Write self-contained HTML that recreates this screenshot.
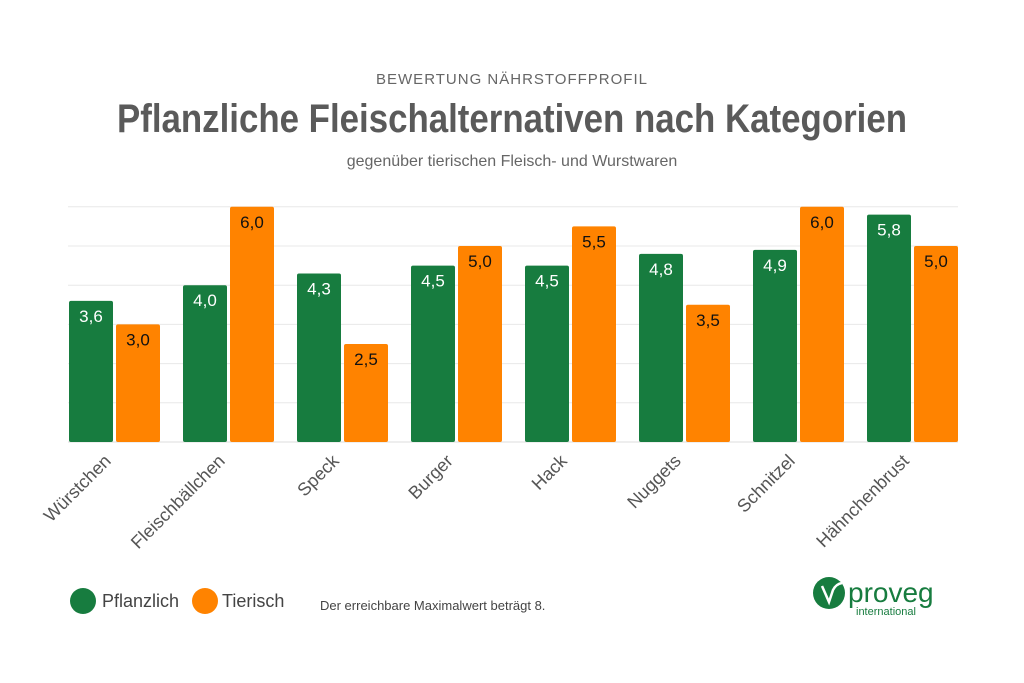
<!DOCTYPE html>
<html><head><meta charset="utf-8">
<style>
body{margin:0;background:#fff;font-family:"Liberation Sans",sans-serif;}
svg{display:block}
</style></head>
<body>
<svg id="c" width="1024" height="683" xmlns="http://www.w3.org/2000/svg">
<text x="512" y="84" text-anchor="middle" font-size="15" fill="#666" letter-spacing="1">BEWERTUNG NÄHRSTOFFPROFIL</text>
<text x="512" y="132" text-anchor="middle" font-size="40" font-weight="bold" fill="#5a5a5a" textLength="790" lengthAdjust="spacingAndGlyphs">Pflanzliche Fleischalternativen nach Kategorien</text>
<text x="512" y="166" text-anchor="middle" font-size="16" fill="#666">gegenüber tierischen Fleisch- und Wurstwaren</text>
<g id="grid"></g><g id="bars"></g><g id="xl"></g>
<circle cx="83" cy="601" r="13" fill="#177c3f"/>
<text x="102" y="607" font-size="18" fill="#444">Pflanzlich</text>
<circle cx="205" cy="601" r="13" fill="#ff8300"/>
<text x="222" y="607" font-size="18" fill="#444">Tierisch</text>
<text x="320" y="610" font-size="13" fill="#444">Der erreichbare Maximalwert beträgt 8.</text>
<g>
<circle cx="829" cy="593" r="16" fill="#177c3f"/>
<path d="M822 586 L829 602 L833 590 Q836 584 842 583" stroke="#fff" stroke-width="2.5" fill="none"/>
<text x="848" y="602" font-size="28" fill="#177c3f">proveg</text>
<text x="856" y="615" font-size="11" fill="#177c3f">international</text>
</g>
</svg>
<script>
const categories=["Würstchen","Fleischbällchen","Speck","Burger","Hack","Nuggets","Schnitzel","Hähnchenbrust"];
const pflanzlich=[3.6,4.0,4.3,4.5,4.5,4.8,4.9,5.8];
const tierisch=[3.0,6.0,2.5,5.0,5.5,3.5,6.0,5.0];
const gridTicks=[0,1,2,3,4,5,6];
const NS="http://www.w3.org/2000/svg";
const y=v=>442-39.2*v;
const gx=i=>69+i*114;
function mk(t,a,p){const e=document.createElementNS(NS,t);for(const k in a)e.setAttribute(k,a[k]);p.appendChild(e);return e;}
const G=document.getElementById('grid'),B=document.getElementById('bars'),X=document.getElementById('xl');
gridTicks.forEach(t=>{const l=mk('line',{x1:68,x2:958,y1:y(t),y2:y(t),stroke:t?'#e8e8e8':'#ddd','stroke-width':1},G);

});
const fmt=v=>v.toFixed(1).replace('.',',');
categories.forEach((c,i)=>{
 [[pflanzlich[i],'#177c3f','#fff',0,'bar-pflanzlich'],[tierisch[i],'#ff8300','#111',47,'bar-tierisch']].forEach(([v,col,tc,off,nm])=>{
  const x=gx(i)+off;
  const r=mk('rect',{x:x,y:y(v),width:44,height:442-y(v),fill:col,rx:2},B);
  
  
  const t=mk('text',{x:x+22,y:y(v)+21,'text-anchor':'middle','font-size':17,fill:tc},B);
  t.textContent=fmt(v);
  
  
 });
 const cx=gx(i)+43,cy=462;
 const t=mk('text',{x:cx,y:cy,'text-anchor':'end','font-size':18,fill:'#555',transform:`rotate(-45 ${cx} ${cy})`},X);
 t.textContent=c;
 
 
});
</script>
</body></html>
